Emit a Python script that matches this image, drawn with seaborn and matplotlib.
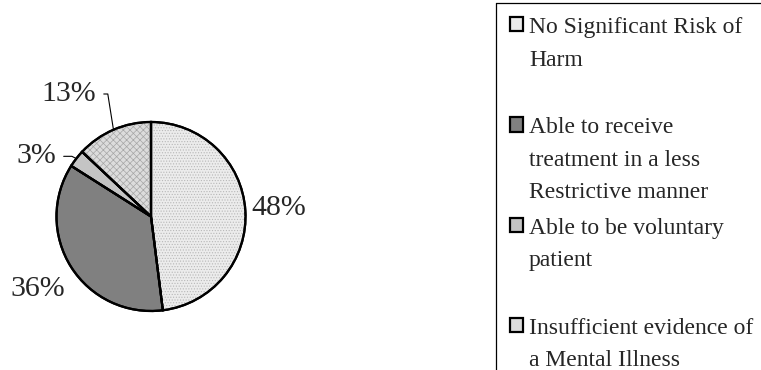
import numpy as np
import matplotlib
matplotlib.use("Agg")
import matplotlib.pyplot as plt
from matplotlib.lines import Line2D
import seaborn as sns

# Reasons for discharge (share of cases)
categories = [
    "No Significant Risk of\nHarm\n",
    "Able to receive\ntreatment in a less\nRestrictive manner",
    "Able to be voluntary\npatient\n",
    "Insufficient evidence of\na Mental Illness",
]
shares = [48, 36, 3, 13]
pct_labels = ["48%", "36%", "3%", "13%"]

sns.set_theme(style="white")
plt.rcParams["font.family"] = ["Liberation Serif", "DejaVu Serif"]
plt.rcParams["hatch.linewidth"] = 0.5

fills = ["#ececec", "#808080", "#c4c4c4", "#dcdcdc"]
textures = ["......", "", "", "xxxxx"]
texture_colors = ["#b8b8b8", "#808080", "#c4c4c4", "#a6a6a6"]

W, H = 761, 370
fig = plt.figure(figsize=(W / 100, H / 100), dpi=100)
fig.patch.set_facecolor("white")

# Pie axes: centre (151, 216) px, radius ~95 px
cx, cy, r = 151, 216.5, 94.5
ax = fig.add_axes([(cx - r) / W, (H - cy - r) / H, 2 * r / W, 2 * r / H])
pie_kw = dict(startangle=90, counterclock=False)

# solid fills (also used as legend handles)
wedges, _ = ax.pie(shares, colors=fills,
                   wedgeprops=dict(edgecolor="black", linewidth=1.6, zorder=0.5),
                   **pie_kw)
# fine textures over the fills
tex, _ = ax.pie(shares, colors=["none"] * 4,
                wedgeprops=dict(linewidth=0, zorder=0.9), **pie_kw)
for w, h, c in zip(tex, textures, texture_colors):
    w.set_edgecolor(c)
    w.set_linewidth(0)
    if h:
        w.set_hatch(h)
# black outlines on top
ax.pie(shares, colors=["none"] * 4,
       wedgeprops=dict(edgecolor="black", linewidth=1.6, zorder=2), **pie_kw)
ax.set_xlim(-1, 1)
ax.set_ylim(-1, 1)
ax.set_aspect("auto")
ax.axis("off")

# Label positions (radius, angle in degrees) and leader-line arrival angle
label_pos = [(1.35, 4.0), (1.42, -147.3), (1.37, 152.3), (1.56, 123.8)]
leader = [None, None, 153, 99]
for w, txt, (rad, ang), lead in zip(wedges, pct_labels, label_pos, leader):
    mid = np.deg2rad((w.theta1 + w.theta2) / 2)
    tx, ty = rad * np.cos(np.deg2rad(ang)), rad * np.sin(np.deg2rad(ang))
    if lead is None:
        ax.text(tx, ty, txt, ha="center", va="center", fontsize=21.5,
                clip_on=False)
    else:
        ax.annotate(
            txt, xy=(np.cos(mid), np.sin(mid)), xytext=(tx, ty),
            ha="center", va="center", fontsize=21.5, annotation_clip=False,
            arrowprops=dict(arrowstyle="-", color="black", lw=0.8,
                            shrinkA=3, shrinkB=0,
                            connectionstyle=f"angle,angleA=0,angleB={lead},rad=0"),
        )

leg = fig.legend(
    wedges, categories, loc="upper left",
    bbox_to_anchor=(496 / W, 1 - 3 / H), borderaxespad=0,
    fontsize=17, frameon=True, fancybox=False, shadow=False,
    handlelength=0.55, handleheight=0.55, handletextpad=0.25,
    borderpad=0.6, labelspacing=0.6,
)
frame = leg.get_frame()
frame.set_linewidth(0)
frame.set_facecolor("white")
for t in leg.get_texts():
    t.set_linespacing(1.72)
for hp in leg._legend_handle_box.get_children()[0].get_children():
    hp.align = "top"

# The legend box runs past the right and bottom edges: draw only its
# left and top sides.
fig.canvas.draw()
bb = frame.get_window_extent().transformed(fig.transFigure.inverted())
x0, y1 = bb.x0, bb.y1
for xs, ys in [([x0, x0], [y1, -0.1]), ([x0, 1.1], [y1, y1])]:
    fig.add_artist(Line2D(xs, ys, transform=fig.transFigure,
                          color="black", linewidth=0.9, zorder=10))

fig.savefig("out.png", dpi=100, facecolor="white")
